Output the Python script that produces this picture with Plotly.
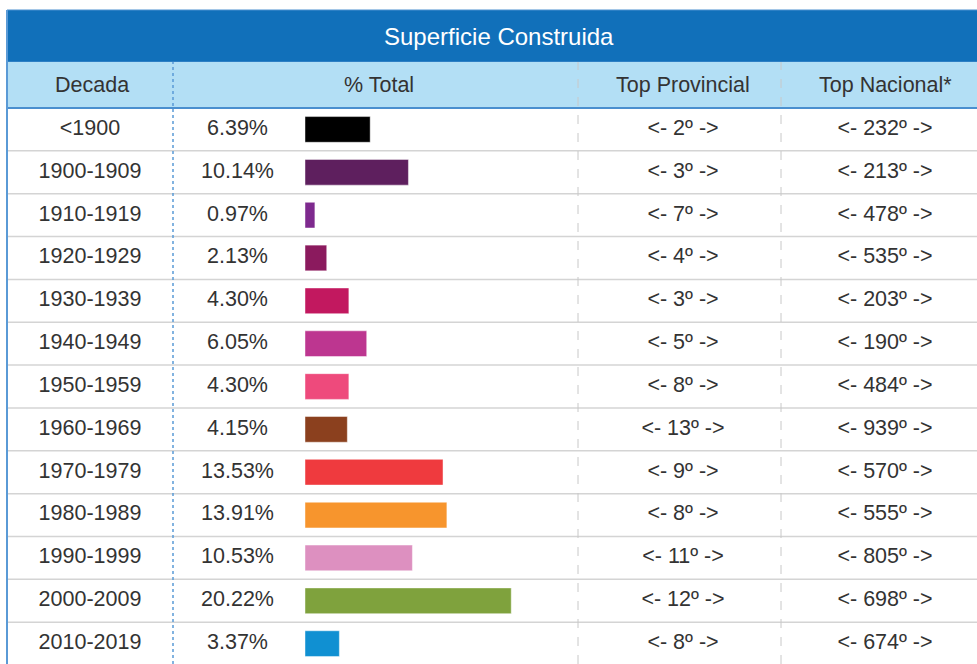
import plotly.graph_objects as go

decades = ["<1900", "1900-1909", "1910-1919", "1920-1929", "1930-1939",
           "1940-1949", "1950-1959", "1960-1969", "1970-1979", "1980-1989",
           "1990-1999", "2000-2009", "2010-2019"]
pct_total = [6.39, 10.14, 0.97, 2.13, 4.30, 6.05, 4.30, 4.15, 13.53, 13.91,
             10.53, 20.22, 3.37]
top_provincial = [2, 3, 7, 4, 3, 5, 8, 13, 9, 8, 11, 12, 8]
top_nacional = [232, 213, 478, 535, 203, 190, 484, 939, 570, 555, 805, 698, 674]

title = "Superficie Construida"
headers = ["Decada", "% Total", "Top Provincial", "Top Nacional*"]

# One colour per decade bar
bar_colors = ["#000000", "#5E1F5E", "#7E2A8E", "#8B1A5E", "#C2185F",
              "#BD3690", "#EE4A7C", "#8B401E", "#EF3A3E", "#F7952D",
              "#DD90C0", "#7FA23D", "#1090D2"]

W, H = 977, 664
ROW_H = 42.85
ROW_TOP = 108          # pixel y where the first data row starts
TITLE_TOP, HEAD_TOP = 10, 62
LEFT = 7
BAR_X0 = 305
PX_PER_PCT = 10.2

TEXT = "#333333"
FONT = "Liberation Sans, Arial, sans-serif"
FSIZE = 21.5


def py(p):
    """pixel y -> paper y"""
    return 1 - p / H


n = len(decades)
fig = go.Figure()

# bars on their own x axis, sharing the row axis
fig.add_trace(go.Bar(
    x=pct_total, y=decades, orientation="h", xaxis="x2", yaxis="y",
    width=0.6, marker=dict(color=bar_colors,
                           line=dict(color="rgba(255,255,255,0.45)", width=1)),
    hoverinfo="skip", showlegend=False,
))

columns = [
    (90, decades),
    (237.5, [f"{v:.2f}%" for v in pct_total]),
    (683, [f"<- {r}º ->" for r in top_provincial]),
    (885, [f"<- {r}º ->" for r in top_nacional]),
]
for cx, labels in columns:
    fig.add_trace(go.Scatter(
        x=[cx] * n, y=decades, mode="text", text=labels,
        textfont=dict(family=FONT, size=FSIZE, color=TEXT),
        hoverinfo="skip", showlegend=False, cliponaxis=False,
    ))

shapes = [
    # title band
    dict(type="rect", xref="x", yref="paper", x0=LEFT, x1=W + 20,
         y0=py(HEAD_TOP), y1=py(TITLE_TOP), fillcolor="#1170BA",
         line=dict(color="#4A8FCF", width=1), layer="below"),
    # header band
    dict(type="rect", xref="x", yref="paper", x0=LEFT, x1=W + 20,
         y0=py(ROW_TOP), y1=py(HEAD_TOP), fillcolor="#B3DFF5",
         line=dict(width=0), layer="below"),
    # header bottom rule
    dict(type="line", xref="x", yref="paper", x0=LEFT, x1=W + 20,
         y0=py(ROW_TOP), y1=py(ROW_TOP), line=dict(color="#4A8FCF", width=2)),
    # left border
    dict(type="line", xref="x", yref="paper", x0=LEFT, x1=LEFT,
         y0=0, y1=py(TITLE_TOP), line=dict(color="#5A9AD6", width=2)),
    # column dividers
    dict(type="line", xref="x", yref="paper", x0=173, x1=173,
         y0=0, y1=py(HEAD_TOP), line=dict(color="#5A9AD6", width=1.5, dash="dot")),
]
for xd in (578, 781):
    shapes.append(dict(type="line", xref="x", yref="paper", x0=xd, x1=xd,
                       y0=0, y1=py(HEAD_TOP),
                       line=dict(color="#C8C8C8", width=1, dash="dash")))
for i in range(1, n):
    yp = py(ROW_TOP + ROW_H * i)
    shapes.append(dict(type="line", xref="x", yref="paper", x0=LEFT, x1=W + 20,
                       y0=yp, y1=yp, line=dict(color="#D4D4D4", width=1.5),
                       layer="below"))

annotations = [
    dict(text=title, xref="x", yref="paper", x=499,
         y=py((TITLE_TOP + HEAD_TOP) / 2), xanchor="center", yanchor="middle",
         showarrow=False, font=dict(family=FONT, size=24, color="white")),
]
for cx, label in zip((92, 379, 683, 885), headers):
    annotations.append(dict(text=label, xref="x", yref="paper", x=cx,
                            y=py((HEAD_TOP + ROW_TOP) / 2), xanchor="center",
                            yanchor="middle", showarrow=False,
                            font=dict(family=FONT, size=FSIZE, color=TEXT)))

# row axis: categorical, reversed, scaled so rows are ROW_H pixels tall
y_top = -ROW_TOP / ROW_H - 0.5
y_bot = (H - ROW_TOP) / ROW_H - 0.5

fig.update_layout(
    width=W, height=H, margin=dict(l=0, r=0, t=0, b=0),
    paper_bgcolor="white", plot_bgcolor="rgba(0,0,0,0)",
    xaxis=dict(range=[0, W], visible=False, fixedrange=True),
    xaxis2=dict(range=[0, (W - BAR_X0) / PX_PER_PCT], visible=False,
                domain=[BAR_X0 / W, 1], anchor="y", fixedrange=True),
    yaxis=dict(type="category", categoryarray=decades, range=[y_bot, y_top],
               visible=False, fixedrange=True),
    shapes=shapes, annotations=annotations,
)

fig.write_html("out.html", config={"displayModeBar": False},
               post_script="document.body.style.margin='0';")
